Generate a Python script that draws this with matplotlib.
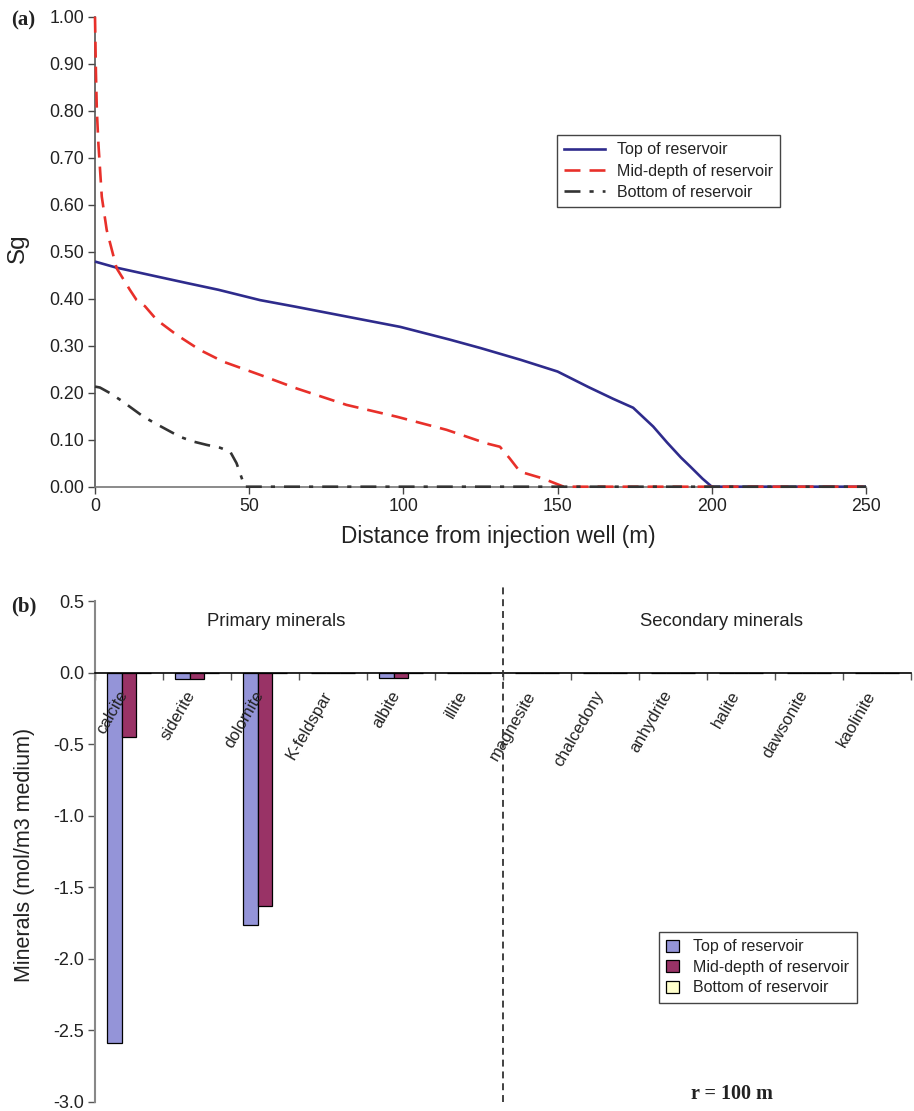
import matplotlib
matplotlib.use("Agg")
import matplotlib.pyplot as plt
from matplotlib.patches import Patch
from matplotlib.lines import Line2D
import numpy as np

plt.rcParams['font.family'] = ['Liberation Sans', 'DejaVu Sans']
plt.rcParams['axes.unicode_minus'] = False
plt.rcParams['lines.scale_dashes'] = False

# ---------------- Panel (a) data ----------------
top_x = [0, 7, 19.5, 30, 40, 53.5, 65, 80, 99, 115, 125, 138, 150, 160, 168, 174.5, 181, 185.5, 190, 193, 197, 200, 250]
top_y = [0.479, 0.466, 0.448, 0.433, 0.419, 0.397, 0.383, 0.364, 0.340, 0.313, 0.295, 0.270, 0.245, 0.212, 0.187, 0.168, 0.128, 0.094, 0.062, 0.043, 0.017, 0.0, 0.0]

mid_x = [0, 0.3, 0.6, 1.1, 2.2, 3.8, 7, 11.3, 13.5, 16.2, 20, 26.5, 34, 41.6, 53.5, 65.4, 81.6, 97.8, 114, 127, 131.3, 134.5, 137.8, 145, 152, 250]
mid_y = [1.0, 0.88, 0.80, 0.73, 0.617, 0.546, 0.465, 0.419, 0.397, 0.384, 0.355, 0.323, 0.291, 0.266, 0.238, 0.209, 0.174, 0.149, 0.121, 0.092, 0.085, 0.060, 0.032, 0.018, 0.0, 0.0]

bot_x = [0, 1.6, 4.9, 8.6, 15.7, 20, 27.6, 31.9, 36.2, 40.5, 43.8, 45.9, 47.6, 48.5, 250]
bot_y = [0.213, 0.211, 0.199, 0.183, 0.149, 0.133, 0.106, 0.096, 0.089, 0.083, 0.075, 0.050, 0.018, 0.0, 0.0]

series_names = ["Top of reservoir", "Mid-depth of reservoir", "Bottom of reservoir"]

# ---------------- Panel (b) data ----------------
minerals = ["calcite", "siderite", "dolomite", "K-feldspar", "albite", "illite",
            "magnesite", "chalcedony", "anhydrite", "halite", "dawsonite", "kaolinite"]
top_vals = [-2.59, -0.044, -1.76, -0.006, -0.040, -0.003, 0, 0, 0, 0, 0, 0]
mid_vals = [-0.45, -0.044, -1.63, -0.006, -0.037, -0.004, 0, 0, 0, 0, 0, 0]
bot_vals = [-0.004, 0.0, -0.001, -0.003, 0.0, -0.004, 0, 0, 0, 0, 0, 0]

TXT = '#222222'
W, H = 914, 1111
fig = plt.figure(figsize=(W / 100, H / 100), dpi=100)

def fx(px):
    return px / W

def fy(py):
    return 1 - py / H

# ---------------- Panel (a) ----------------
axa = fig.add_axes([fx(95), fy(486.7), fx(866 - 95), (486.7 - 16.7) / H])
blue, red, gray = '#2E2B8C', '#E8302A', '#333333'
axa.plot(top_x, top_y, color=blue, lw=1.9, solid_capstyle='butt', clip_on=False, zorder=3)
axa.plot(mid_x, mid_y, color=red, lw=1.9, dashes=(11.5, 6.5), clip_on=False, zorder=4)
axa.plot(bot_x, bot_y, color=gray, lw=1.9, dashes=(11.5, 6.5, 3, 6.5), clip_on=False, zorder=5)
axa.set_xlim(0, 250)
axa.set_ylim(0, 1.0)
axa.set_xticks(np.arange(0, 251, 50))
axa.set_yticks(np.arange(0, 1.01, 0.1))
axa.yaxis.set_major_formatter(matplotlib.ticker.FormatStrFormatter('%.2f'))
for s in ['top', 'right']:
    axa.spines[s].set_visible(False)
axa.spines['left'].set_color('#555555')
axa.spines['bottom'].set_color('#777777')
axa.spines['left'].set_linewidth(1.2)
axa.spines['bottom'].set_linewidth(1.2)
axa.tick_params(axis='both', direction='out', length=5, width=1, colors='#444444',
                labelsize=12.8, labelcolor=TXT, pad=3)
fig.text(fx(18), fy(248), "Sg", rotation=90, ha='center', va='center', fontsize=17.5, color=TXT)
fig.text(fx(498), fy(536), "Distance from injection well (m)", ha='center', va='center',
         fontsize=16.3, color=TXT)
handles_a = [Line2D([], [], color=blue, lw=1.9),
             Line2D([], [], color=red, lw=1.9, dashes=(11.5, 6.5)),
             Line2D([], [], color=gray, lw=1.9, dashes=(11.5, 6.5, 3, 6.5))]
lega = axa.legend(handles_a, series_names, loc='upper left',
                  bbox_to_anchor=((556.7 - 95) / 771, (486.7 - 135) / 470),
                  fontsize=11.5, frameon=True, fancybox=False, framealpha=1,
                  edgecolor='#444444', handlelength=2.6, handletextpad=0.7,
                  labelspacing=0.4, borderpad=0.45, borderaxespad=0)
lega.get_frame().set_linewidth(1.0)
for t in lega.get_texts():
    t.set_color(TXT)
fig.text(fx(23), fy(20), "(a)", ha='center', va='center', fontsize=15,
         fontweight='bold', family='Liberation Serif', color=TXT)

# ---------------- Panel (b) ----------------
y0b, ybot = 601.0, 1102.0
axb = fig.add_axes([fx(95), fy(ybot), fx(911 - 95), (ybot - y0b) / H])
n = len(minerals)
xpos = np.arange(n)
bw = 0.22
c_top, c_mid, c_bot = '#9494D8', '#993366', '#FFFFCC'
axb.bar(xpos - bw, top_vals, bw, color=c_top, edgecolor='black', linewidth=0.9, zorder=2)
axb.bar(xpos, mid_vals, bw, color=c_mid, edgecolor='black', linewidth=0.9, zorder=2)
axb.bar(xpos + bw, bot_vals, bw, color=c_bot, edgecolor='black', linewidth=0.9, zorder=2)
axb.set_xlim(-0.5, n - 0.5)
axb.set_ylim(-3.0, 0.5)
axb.set_yticks(np.arange(-3.0, 0.51, 0.5))
axb.yaxis.set_major_formatter(matplotlib.ticker.FormatStrFormatter('%.1f'))
axb.set_xticks(np.arange(-0.5, n, 1.0))
axb.set_xticklabels([])
for s in ['top', 'right']:
    axb.spines[s].set_visible(False)
axb.spines['bottom'].set_position(('data', 0))
axb.spines['bottom'].set_color('black')
axb.spines['bottom'].set_linewidth(1.2)
axb.spines['bottom'].set_zorder(3)
axb.spines['left'].set_color('#888888')
axb.spines['left'].set_linewidth(1.5)
axb.tick_params(axis='y', direction='out', length=5, width=1, colors='#555555',
                labelsize=13, labelcolor=TXT, pad=3)
axb.tick_params(axis='x', direction='out', length=5, width=1, colors='#555555')
for i, name in enumerate(minerals):
    axb.text(i + 0.02, -0.11, name, rotation=60, ha='right', va='top', fontsize=12, color=TXT)
axb.text(2.17, 0.357, "Primary minerals", ha='center', va='center', fontsize=13.3, color=TXT)
axb.text(8.72, 0.357, "Secondary minerals", ha='center', va='center', fontsize=13.3, color=TXT)
axb.plot([5.5, 5.5], [0, 1.036], transform=axb.get_xaxis_transform(), color='#333333',
         lw=1.3, dashes=(5, 3.5), clip_on=False, zorder=4)
fig.text(fx(25), fy(855), "Minerals (mol/m3 medium)", rotation=90, ha='center', va='center',
         fontsize=15.5, color=TXT)
handles_b = [Patch(facecolor=c, edgecolor='black', linewidth=0.9) for c in (c_top, c_mid, c_bot)]
legb = axb.legend(handles_b, series_names, loc='upper left',
                  bbox_to_anchor=((659 - 95) / 816, (ybot - 932) / (ybot - y0b)),
                  fontsize=11.5, frameon=True, fancybox=False, framealpha=1,
                  edgecolor='#444444', handlelength=0.8, handleheight=0.8, handletextpad=0.9,
                  labelspacing=0.35, borderpad=0.45, borderaxespad=0)
legb.get_frame().set_linewidth(1.0)
for t in legb.get_texts():
    t.set_color(TXT)
axb.text((732 - 95) / 816, (ybot - 1094) / (ybot - y0b), "r = 100 m", transform=axb.transAxes,
         ha='center', va='center', fontsize=14.5, fontweight='bold', family='Liberation Serif',
         color=TXT)
fig.text(fx(24), fy(606), "(b)", ha='center', va='center', fontsize=15,
         fontweight='bold', family='Liberation Serif', color=TXT)

fig.savefig("out.png", dpi=100)
